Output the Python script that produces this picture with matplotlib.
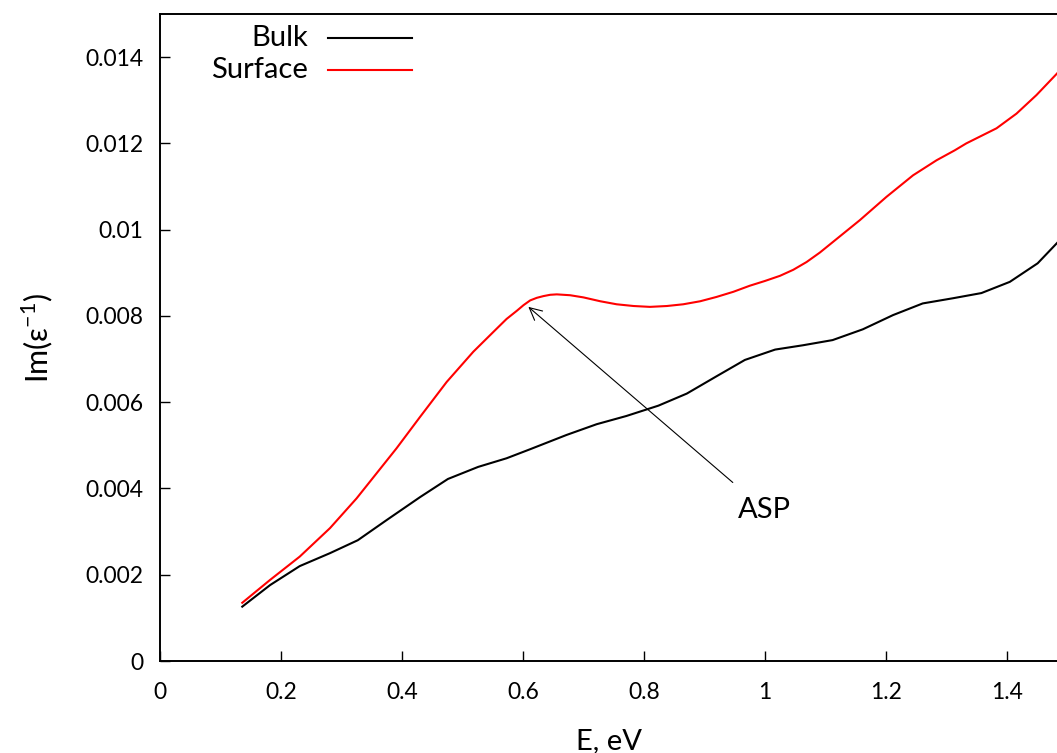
import matplotlib
matplotlib.use("Agg")
import matplotlib.pyplot as plt
from matplotlib.lines import Line2D

plt.rcParams['font.family'] = ['Lato', 'DejaVu Sans']
plt.rcParams['mathtext.fontset'] = 'custom'
plt.rcParams['mathtext.rm'] = 'Lato'

# Bulk loss function Im(1/eps)
bulk_e = [0.136, 0.182, 0.231, 0.281, 0.327, 0.375, 0.430, 0.476, 0.526, 0.573,
          0.612, 0.672, 0.722, 0.771, 0.824, 0.871, 0.920, 0.967, 1.017, 1.063,
          1.112, 1.162, 1.212, 1.261, 1.311, 1.358, 1.405, 1.451, 1.483, 1.50]
bulk_im = [0.00126, 0.00176, 0.00220, 0.00250, 0.00280, 0.00327, 0.00380, 0.00422, 0.00450, 0.00470,
           0.00491, 0.00524, 0.00549, 0.00568, 0.00592, 0.00620, 0.00660, 0.00698, 0.00722, 0.00732,
           0.00744, 0.00769, 0.00802, 0.00829, 0.00841, 0.00853, 0.00879, 0.00922, 0.00969, 0.00995]

# Surface loss function
surf_e = [0.136, 0.182, 0.231, 0.281, 0.325, 0.358, 0.391, 0.430, 0.474, 0.518,
          0.557, 0.573, 0.590, 0.601, 0.612, 0.623, 0.634, 0.645, 0.656, 0.678,
          0.700, 0.728, 0.755, 0.783, 0.810, 0.838, 0.865, 0.893, 0.920, 0.948,
          0.975, 1.000, 1.025, 1.047, 1.069, 1.091, 1.113, 1.157, 1.201, 1.245,
          1.284, 1.314, 1.333, 1.383, 1.416, 1.449, 1.483, 1.50]
surf_im = [0.00135, 0.00188, 0.00242, 0.00308, 0.00377, 0.00435, 0.00493, 0.00566, 0.00647, 0.00717,
           0.00771, 0.00793, 0.00812, 0.00825, 0.00836, 0.00842, 0.00846, 0.00849, 0.00850, 0.00848,
           0.00843, 0.00834, 0.00827, 0.00823, 0.00821, 0.00823, 0.00827, 0.00834, 0.00844, 0.00856,
           0.00870, 0.00881, 0.00893, 0.00907, 0.00925, 0.00947, 0.00972, 0.01022, 0.01076, 0.01126,
           0.01161, 0.01184, 0.01200, 0.01235, 0.01269, 0.01312, 0.01362, 0.01390]

xticks = [0, 0.2, 0.4, 0.6, 0.8, 1.0, 1.2, 1.4]
xtick_labels = ['0', '0.2', '0.4', '0.6', '0.8', '1', '1.2', '1.4']
yticks = [0, 0.002, 0.004, 0.006, 0.008, 0.01, 0.012, 0.014]
ytick_labels = ['0', '0.002', '0.004', '0.006', '0.008', '0.01', '0.012', '0.014']

W, H = 1057, 753
fig = plt.figure(figsize=(W / 100, H / 100), dpi=100)
ax = fig.add_axes([160 / W, (H - 661) / H, (W - 160) / W, (661 - 14) / H])

ax.plot(bulk_e, bulk_im, color='black', lw=1.5, solid_joinstyle='round')
ax.plot(surf_e, surf_im, color='#ff0000', lw=1.5, solid_joinstyle='round')

ax.set_xlim(0, 1.483)
ax.set_ylim(0, 0.015)
ax.set_xticks(xticks)
ax.set_xticklabels(xtick_labels)
ax.set_yticks(yticks)
ax.set_yticklabels(ytick_labels)
ax.tick_params(direction='in', length=7, width=1.0, labelsize=16.5)
ax.tick_params(axis='y', pad=12)
ax.tick_params(axis='x', pad=15)
for s in ('left', 'bottom', 'top'):
    ax.spines[s].set_linewidth(1.4)
ax.spines['right'].set_visible(False)

ax.set_xlabel('E, eV', fontsize=21, labelpad=18)
ax.set_ylabel('Im(ε$^{-1}$)', fontsize=22, labelpad=22)

# Annotation for the surface plasmon peak
ax.annotate('ASP', xy=(0.609, 0.00821), xytext=(1.0, 0.0035),
            fontsize=21, ha='center', va='center',
            arrowprops=dict(arrowstyle='->', color='black', lw=0.8,
                            mutation_scale=22, shrinkA=13, shrinkB=0))

# Key: label right-aligned, sample line to the right
tx, lx0, lx1 = 0.165, 0.187, 0.281
for label, col, yy in (('Bulk', 'black', 0.963), ('Surface', '#ff0000', 0.914)):
    ax.text(tx, yy, label, transform=ax.transAxes, ha='right', va='center', fontsize=21)
    ax.add_line(Line2D([lx0, lx1], [yy, yy], transform=ax.transAxes, color=col, lw=1.5))

fig.savefig('out.png', dpi=100)
